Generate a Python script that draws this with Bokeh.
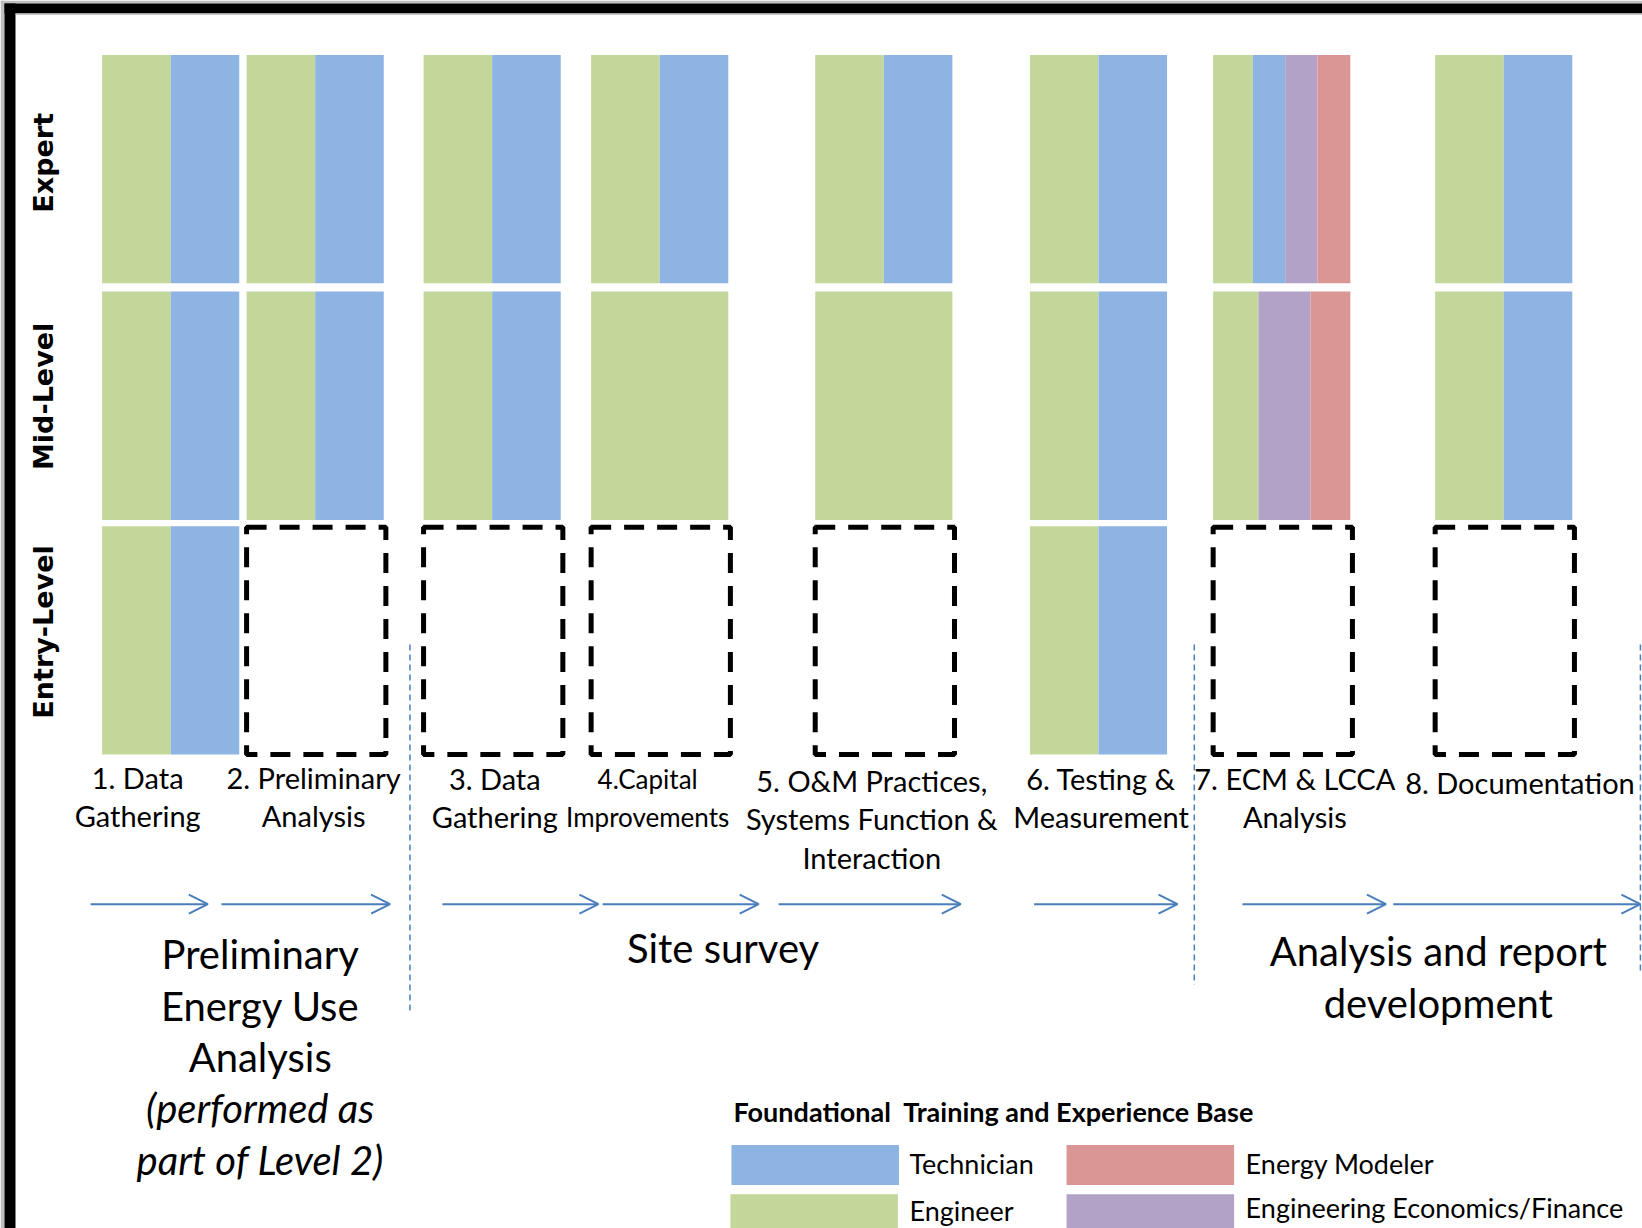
import math
from bokeh.plotting import figure
from bokeh.models import Range1d, ColumnDataSource, Arrow, OpenHead
from bokeh.core.properties import value
from bokeh.embed import file_html
from bokeh.resources import INLINE

# ---------------- data ----------------
steps = ["1. Data\nGathering", "2. Preliminary\nAnalysis", "3. Data\nGathering",
         "4.Capital\nImprovements", "5. O&M Practices,\nSystems Function &\nInteraction",
         "6. Testing &\nMeasurement", "7. ECM & LCCA\nAnalysis", "8. Documentation"]
levels = ["Expert", "Mid-Level", "Entry-Level"]
roles = ["Engineer", "Technician", "Engineering Economics/Finance", "Energy Modeler"]
role_colors = ["#C4D79B", "#8EB4E3", "#B3A2C7", "#D99694"]

engineer_expert = [0.5, 0.5, 0.5, 0.5, 0.5, 0.5, 0.29, 0.5]
technician_expert = [0.5, 0.5, 0.5, 0.5, 0.5, 0.5, 0.235, 0.5]
economics_expert = [0, 0, 0, 0, 0, 0, 0.235, 0]
modeler_expert = [0, 0, 0, 0, 0, 0, 0.24, 0]

engineer_mid = [0.5, 0.5, 0.5, 1.0, 1.0, 0.5, 0.33, 0.5]
technician_mid = [0.5, 0.5, 0.5, 0, 0, 0.5, 0, 0.5]
economics_mid = [0, 0, 0, 0, 0, 0, 0.38, 0]
modeler_mid = [0, 0, 0, 0, 0, 0, 0.29, 0]

engineer_entry = [0.5, 0, 0, 0, 0, 0.5, 0, 0]
technician_entry = [0.5, 0, 0, 0, 0, 0.5, 0, 0]
economics_entry = [0, 0, 0, 0, 0, 0, 0, 0]
modeler_entry = [0, 0, 0, 0, 0, 0, 0, 0]

phases = ["Preliminary\nEnergy Use\nAnalysis", "Site survey", "Analysis and report\ndevelopment"]
phase_note = "(performed as\npart of Level 2)"
legend_title = "Foundational\u00a0 Training and Experience Base"
legend_order = ["Technician", "Engineer", "Energy Modeler", "Engineering Economics/Finance"]

# ---------------- layout ----------------
K = 1642 / 1568.0


def s(v):
    return v * K


col_left = [97, 235, 404, 564, 778, 983, 1158, 1370]
col_w = 131
row_top = [52, 278, 502]
row_h = 218

label_cx = [131, 299, 472, 618, 832, 1051, 1236, 1451]
label_y0 = [742, 742, 743, 743, 745, 743, 743, 747]
label_size = ["29px", "29px", "29px", "26px", "29px", "29px", "29px", "29px"]
label_dy = 36.5

arrow_x = [(86, 198), (211, 372), (422, 571), (575, 724), (743, 917),
           (987, 1124), (1186, 1323), (1330, 1566)]
arrow_y = 863
sep_x = [391, 1140, 1566]
sep_y = [(615, 965), (615, 940), (615, 930)]

phase_cx = [248, 690, 1373]
phase_y0 = [911, 905, 908]
phase_dy = 49

FONT = value("Lato")
ARROW_C = "#4A7EBB"
W, H = 1642, 1228

p = figure(width=W, height=H, x_range=Range1d(0, W), y_range=Range1d(H, 0),
           output_backend="svg", toolbar_location=None, min_border=0,
           x_axis_location=None, y_axis_location=None)
p.grid.visible = False
p.outline_line_color = None
p.background_fill_color = "white"

# frame border (left + top)
p.quad(left=[0, 0], right=[4, W], top=[0, 0], bottom=[H, 3], fill_color="#BFBFBF", line_color=None)
p.quad(left=[4, 4], right=[15, W], top=[3, 3], bottom=[H, 13], fill_color="black", line_color=None)
p.quad(left=[15], right=[W], top=[13], bottom=[14.5], fill_color="#C8C8C8", line_color=None)

shares = [
    [engineer_expert, technician_expert, economics_expert, modeler_expert],
    [engineer_mid, technician_mid, economics_mid, modeler_mid],
    [engineer_entry, technician_entry, economics_entry, modeler_entry],
]

seg = dict(l=[], r=[], t=[], b=[], c=[])
box = dict(l=[], r=[], t=[], b=[])
for i, lev in enumerate(levels):
    for j in range(len(steps)):
        x = col_left[j]
        total = sum(shares[i][k][j] for k in range(len(roles)))
        if total == 0:
            box["l"].append(s(col_left[j]))
            box["r"].append(s(col_left[j] + col_w + 2))
            box["t"].append(s(row_top[i] + 1))
            box["b"].append(s(row_top[i] + row_h))
            continue
        for k in range(len(roles)):
            w = shares[i][k][j] * col_w
            if w <= 0:
                continue
            seg["l"].append(s(x))
            seg["r"].append(s(x + w))
            seg["t"].append(s(row_top[i]))
            seg["b"].append(s(row_top[i] + row_h))
            seg["c"].append(role_colors[k])
            x += w

p.quad(left="l", right="r", top="t", bottom="b", fill_color="c", line_color=None,
       source=ColumnDataSource(seg))
p.quad(left="l", right="r", top="t", bottom="b", fill_color=None, line_color="black",
       line_width=5, line_dash="20 13", source=ColumnDataSource(box))

# row labels
row_cy = [155, 378, 603]
p.text(x=[s(41)] * 3, y=[s(v) for v in row_cy], text=levels, angle=math.pi / 2,
       text_font=value("DejaVu Sans"), text_font_style="bold", text_font_size="27px",
       text_align="center", text_baseline="middle", text_color="black")

# step labels
tx, ty, tt, ts = [], [], [], []
for j, lab in enumerate(steps):
    for n, line in enumerate(lab.split("\n")):
        tx.append(s(label_cx[j]))
        ty.append(s(label_y0[j] + n * label_dy))
        tt.append(line)
        ts.append(label_size[j])
p.text(x="x", y="y", text="t", text_font_size="fs", text_font=FONT, text_align="center",
       text_baseline="middle", text_color="black",
       source=ColumnDataSource(dict(x=tx, y=ty, t=tt, fs=ts)))

# arrows
asrc = ColumnDataSource(dict(x0=[s(a) for a, b in arrow_x], x1=[s(b) for a, b in arrow_x],
                             y0=[s(arrow_y)] * len(arrow_x), y1=[s(arrow_y)] * len(arrow_x)))
p.add_layout(Arrow(x_start="x0", y_start="y0", x_end="x1", y_end="y1", source=asrc,
                   line_color=ARROW_C, line_width=2,
                   end=OpenHead(size=19, line_color=ARROW_C, line_width=2)))

# separators
p.segment(x0=[s(v) for v in sep_x], x1=[s(v) for v in sep_x],
          y0=[s(a) for a, b in sep_y], y1=[s(b) for a, b in sep_y],
          line_color=ARROW_C, line_width=1.5, line_dash="6 4")

# phase labels
px, py, pt, pst = [], [], [], []
for j, ph in enumerate(phases):
    lines = ph.split("\n")
    styles = ["normal"] * len(lines)
    if j == 0:
        note = phase_note.split("\n")
        lines += note
        styles += ["italic"] * len(note)
    for n, line in enumerate(lines):
        px.append(s(phase_cx[j]))
        py.append(s(phase_y0[j] + n * phase_dy))
        pt.append(line)
        pst.append(styles[n])
p.text(x="x", y="y", text="t", text_font_style="st", text_font=FONT, text_font_size="40px",
       text_align="center", text_baseline="middle", text_color="black",
       source=ColumnDataSource(dict(x=px, y=py, t=pt, st=pst)))

# legend
p.text(x=[s(700)], y=[s(1061)], text=[legend_title], text_font=FONT, text_font_style="bold",
       text_font_size="27px", text_align="left", text_baseline="middle", text_color="black")
sw_left = [698, 697, 1018, 1018]
sw_top = [1093, 1140, 1093, 1140]
sw_h = [38, 40, 38, 40]
lg_col = [role_colors[roles.index(r)] for r in legend_order]
p.quad(left=[s(v) for v in sw_left], right=[s(v + 160) for v in sw_left],
       top=[s(v) for v in sw_top], bottom=[s(t + h) for t, h in zip(sw_top, sw_h)],
       fill_color=lg_col, line_color=None)
lab_x = [868, 868, 1189, 1189]
lab_y = [1111, 1155, 1111, 1153]
p.text(x=[s(v) for v in lab_x], y=[s(v) for v in lab_y], text=legend_order, text_font=FONT,
       text_font_size="27px", text_align="left", text_baseline="middle", text_color="black")

open("out.html", "w").write(file_html(p, INLINE))
